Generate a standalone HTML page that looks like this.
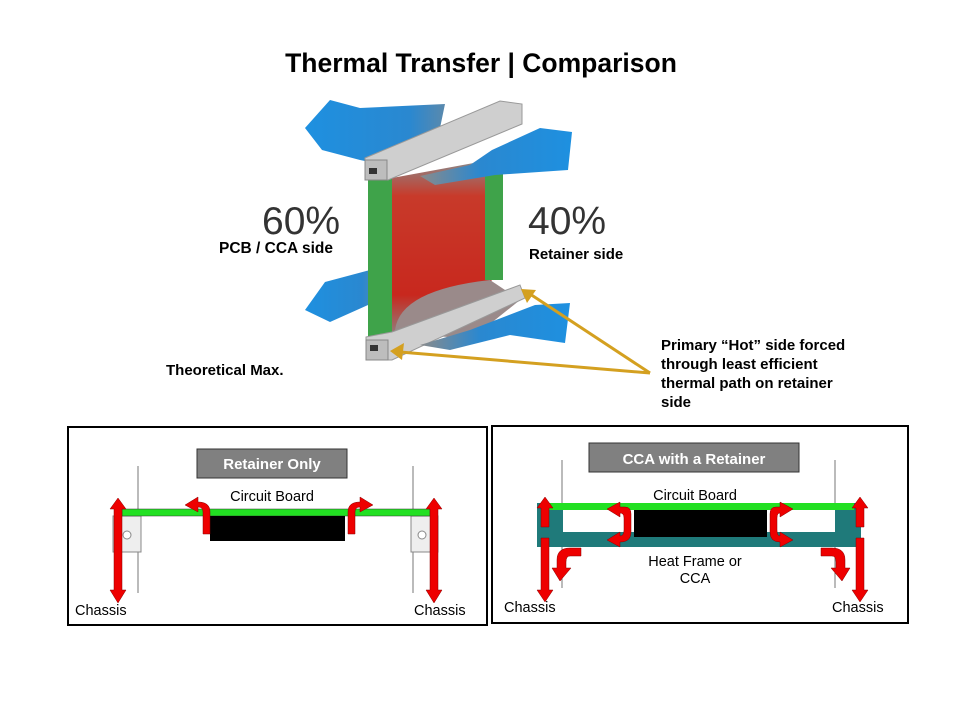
<!DOCTYPE html>
<html><head><meta charset="utf-8"><style>
html,body{margin:0;padding:0;background:#fff;}
svg{display:block;}
text{font-family:"Liberation Sans",Arial,sans-serif;}
</style></head><body>
<svg width="960" height="720" viewBox="0 0 960 720" xmlns="http://www.w3.org/2000/svg">
<defs>
<linearGradient id="red" x1="0" y1="0" x2="0" y2="1">
<stop offset="0" stop-color="#8a8a8a"/><stop offset="0.2" stop-color="#c83a2a"/><stop offset="0.75" stop-color="#c8281e"/><stop offset="1" stop-color="#8a8a8a"/>
</linearGradient>
<linearGradient id="bl1" x1="0" y1="0" x2="1" y2="0">
<stop offset="0" stop-color="#1e90e0"/><stop offset="0.6" stop-color="#2a88d0"/><stop offset="1" stop-color="#8a8a8a"/>
</linearGradient>
<linearGradient id="bl2" x1="1" y1="0" x2="0" y2="0">
<stop offset="0" stop-color="#1e90e0"/><stop offset="0.6" stop-color="#2a88d0"/><stop offset="1" stop-color="#8a8a8a"/>
</linearGradient>
</defs>

<text x="481" y="72" font-size="26.5" font-weight="bold" text-anchor="middle" fill="#000">Thermal Transfer | Comparison</text>

<polygon points="305,128 330,100 360,108 445,104 440,128 480,138 385,165 360,160 322,150" fill="url(#bl1)"/>
<polygon points="305,310 325,282 370,270 400,275 400,300 368,305 330,322" fill="url(#bl1)"/>
<path d="M392,178 L490,160 L492,280 Q470,300 470,335 L392,340 Z" fill="url(#red)"/>
<path d="M395,330 Q400,290 490,280 L520,300 L470,340 Z" fill="#9a8a8a"/>
<rect x="368" y="178" width="24" height="160" fill="#3fa34a"/>
<rect x="485" y="168" width="18" height="112" fill="#3fa34a"/>
<polygon points="365,158 500,101 522,104 522,124 388,180 365,180" fill="#cfcfcf" stroke="#999" stroke-width="1"/>
<rect x="365" y="160" width="22" height="20" fill="#bdbdbd" stroke="#888"/>
<rect x="369" y="168" width="8" height="6" fill="#333"/>
<polygon points="366,337 392,332 520,285 525,298 392,360 366,360" fill="#cfcfcf" stroke="#999"/>
<rect x="366" y="340" width="22" height="20" fill="#bdbdbd" stroke="#888"/>
<rect x="370" y="345" width="8" height="6" fill="#333"/>
<polygon points="420,176 470,165 492,150 540,128 572,132 568,170 495,175 435,185" fill="url(#bl2)"/>
<polygon points="420,345 470,330 535,305 570,303 565,343 510,335 450,350" fill="url(#bl2)"/>

<text x="262" y="234" font-size="39" fill="#333">60%</text>
<text x="528" y="234" font-size="39" fill="#333">40%</text>
<text x="219" y="253" font-size="15.5" font-weight="bold">PCB / CCA side</text>
<text x="529" y="259" font-size="15" font-weight="bold">Retainer side</text>
<text x="166" y="375" font-size="15" font-weight="bold">Theoretical Max.</text>
<text font-size="15" font-weight="bold"><tspan x="661" y="350">Primary “Hot” side forced</tspan><tspan x="661" y="369">through least efficient</tspan><tspan x="661" y="388">thermal path on retainer</tspan><tspan x="661" y="407">side</tspan></text>
<g stroke="#d4a020" stroke-width="3" fill="#d4a020">
<line x1="650" y1="373" x2="400" y2="352"/>
<line x1="650" y1="373" x2="530" y2="294"/>
</g>
<polygon points="390,351 404,343 402,360" fill="#d4a020"/>
<polygon points="521,289 536,290 527,303" fill="#d4a020"/>

<!-- Panel 1 -->
<rect x="68" y="427" width="419" height="198" fill="#fff" stroke="#000" stroke-width="2"/>
<rect x="197" y="449" width="150" height="29" fill="#808080" stroke="#333"/>
<text x="272" y="469" font-size="15" font-weight="bold" fill="#fff" text-anchor="middle">Retainer Only</text>
<text x="272" y="501" font-size="14.5" text-anchor="middle">Circuit Board</text>
<line x1="138" y1="466" x2="138" y2="593" stroke="#777"/>
<line x1="413" y1="466" x2="413" y2="593" stroke="#777"/>
<rect x="113" y="516" width="28" height="36" fill="#eee" stroke="#888"/>
<circle cx="127" cy="535" r="4" fill="#fff" stroke="#888"/>
<rect x="411" y="516" width="27" height="36" fill="#eee" stroke="#888"/>
<circle cx="422" cy="535" r="4" fill="#fff" stroke="#888"/>
<rect x="122" y="509" width="308" height="7" fill="#22e022" stroke="#333" stroke-width="0.5"/>
<rect x="210" y="516" width="135" height="25" fill="#000"/>
<g fill="#e00" stroke="#800" stroke-width="0.5">
<polygon points="118,498 110,509 114,509 114,590 110,590 118,603 126,590 122,590 122,509 126,509"/>
<polygon points="434,498 426,509 430,509 430,590 426,590 434,603 442,590 438,590 438,509 442,509"/>
<path d="M203,534 L203,512 Q203,507 198,507 L198,512 L185,505 L198,497 L198,502 Q210,502 210,512 L210,534 Z"/>
<path d="M348,534 L348,512 Q348,502 360,502 L360,497 L373,505 L360,512 L360,507 Q355,507 355,512 L355,534 Z"/>
</g>
<text x="75" y="615" font-size="14.5">Chassis</text>
<text x="414" y="615" font-size="14.5">Chassis</text>

<!-- Panel 2 -->
<rect x="492" y="426" width="416" height="197" fill="#fff" stroke="#000" stroke-width="2"/>
<rect x="589" y="443" width="210" height="29" fill="#808080" stroke="#333"/>
<text x="694" y="464" font-size="15" font-weight="bold" fill="#fff" text-anchor="middle">CCA with a Retainer</text>
<text x="695" y="500" font-size="14.5" text-anchor="middle">Circuit Board</text>
<line x1="562" y1="460" x2="562" y2="588" stroke="#777"/>
<line x1="835" y1="460" x2="835" y2="588" stroke="#777"/>
<rect x="537" y="503" width="324" height="44" fill="#1f7a7a"/>
<rect x="563" y="510" width="272" height="22" fill="#fff"/>
<rect x="547" y="503" width="307" height="7" fill="#22e022"/>
<rect x="634" y="510" width="133" height="27" fill="#000"/>
<g fill="#e00" stroke="#800" stroke-width="0.5">
<polygon points="545,497 537,508 541,508 541,527 549,527 549,508 553,508"/>
<polygon points="541,538 541,590 537,590 545,602 553,590 549,590 549,538"/>
<polygon points="860,497 852,508 856,508 856,527 864,527 864,508 868,508"/>
<polygon points="856,538 856,590 852,590 860,602 868,590 864,590 864,538"/>
<path d="M631,514 Q631,507 625,507 L620,507 L620,502 L607,509 L620,517 L620,513 Q624,513 624,518 L624,530 Q624,536 620,536 L620,532 L607,540 L620,547 L620,542 Q631,542 631,532 Z"/>
<path d="M770,514 Q770,507 776,507 L780,507 L780,502 L793,509 L780,517 L780,513 Q777,513 777,518 L777,530 Q777,536 780,536 L780,532 L793,540 L780,547 L780,542 Q770,542 770,532 Z"/>
<path d="M581,548 L581,556 L570,556 Q566,556 566,562 L566,568 L571,568 L560,581 L552,568 L557,568 L557,560 Q557,548 570,548 Z"/>
<path d="M821,548 L821,556 L832,556 Q836,556 836,562 L836,568 L831,568 L842,581 L850,568 L845,568 L845,560 Q845,548 832,548 Z"/>
</g>
<text x="695" y="566" font-size="14.5" text-anchor="middle">Heat Frame or</text>
<text x="695" y="583" font-size="14.5" text-anchor="middle">CCA</text>
<text x="504" y="612" font-size="14.5">Chassis</text>
<text x="832" y="612" font-size="14.5">Chassis</text>
</svg>
</body></html>
